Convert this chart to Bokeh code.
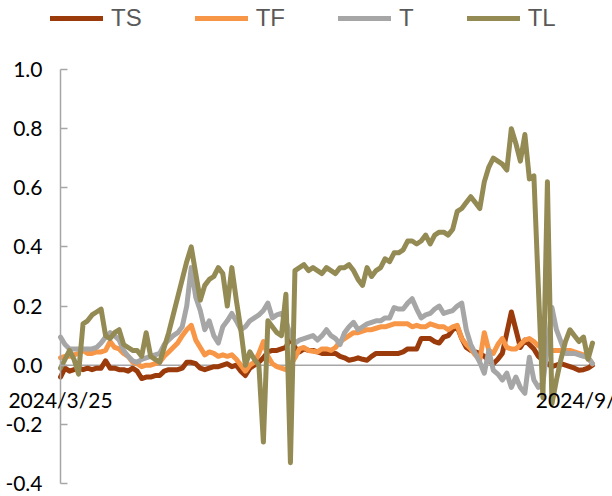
import pandas as pd
from bokeh.plotting import figure
from bokeh.models import (Range1d, Label, Legend, LegendItem, PrintfTickFormatter,
                          FixedTicker, LinearAxis)
from bokeh.embed import file_html
from bokeh.resources import INLINE

# trading calendar (exchange holidays removed)
holidays = ["2024-04-04", "2024-04-05", "2024-05-01", "2024-05-02", "2024-05-03", "2024-06-10"]
dates = [d for d in pd.bdate_range("2024-03-25", "2024-09-13") if d.strftime("%Y-%m-%d") not in holidays]
date_text = [f"{d.year}/{d.month}/{d.day}" for d in dates]
label_positions = [0, 117]

y_ticks = [-0.4, -0.2, 0.0, 0.2, 0.4, 0.6, 0.8, 1.0]

series_names = ["TS", "TF", "T", "TL"]
series_colors = ["#9b3a0a", "#f79646", "#a6a6a6", "#948a54"]

TS = [
    -0.04, -0.01, -0.02, -0.015, -0.01, -0.015, -0.01, -0.015, -0.01, -0.01,
    0.015, -0.01, -0.01, -0.015, -0.015, -0.02, -0.01, -0.02, -0.045, -0.04,
    -0.04, -0.035, -0.035, -0.02, -0.015, -0.015, -0.015, -0.01, 0.01, 0.01,
    0.005, -0.01, -0.015, -0.01, -0.005, -0.005, 0.0, 0.005, -0.005, 0.0,
    -0.02, -0.035, -0.01, 0.0, 0.01, 0.025, 0.045, 0.05, 0.05, 0.055,
    0.06, 0.095, 0.06, 0.045, 0.055, 0.05, 0.05, 0.045, 0.04, 0.04,
    0.04, 0.04, 0.03, 0.025, 0.017, 0.02, 0.025, 0.02, 0.017, 0.03,
    0.04, 0.04, 0.04, 0.04, 0.04, 0.04, 0.045, 0.055, 0.055, 0.055,
    0.09, 0.09, 0.09, 0.08, 0.075, 0.095, 0.10, 0.12, 0.13, 0.09,
    0.06, 0.05, 0.045, 0.04, 0.03, 0.015, 0.005, 0.02, 0.04, 0.11,
    0.18, 0.12, 0.06, 0.085, 0.07, 0.055, 0.03, 0.017, 0.005, -0.005,
    0.0, 0.005, 0.0, -0.005, -0.01, -0.017, -0.015, -0.01, 0.0,
]

TF = [
    0.025, 0.03, 0.03, 0.035, 0.04, 0.05, 0.04, 0.04, 0.045, 0.045,
    0.05, 0.08, 0.06, 0.055, 0.04, 0.03, 0.01, 0.005, -0.005, 0.0,
    0.0, 0.005, 0.01, 0.03, 0.045, 0.06, 0.075, 0.10, 0.12, 0.135,
    0.085, 0.06, 0.035, 0.045, 0.04, 0.03, 0.035, 0.03, 0.035, 0.02,
    0.0, -0.02, 0.0, 0.01, 0.04, 0.08, 0.03, 0.005, -0.005, -0.01,
    -0.015, 0.0, 0.025, 0.055, 0.06, 0.05, 0.047, 0.045, 0.055, 0.055,
    0.05, 0.06, 0.08, 0.09, 0.10, 0.11, 0.11, 0.115, 0.12, 0.12,
    0.125, 0.13, 0.13, 0.135, 0.14, 0.14, 0.14, 0.14, 0.13, 0.135,
    0.13, 0.13, 0.14, 0.135, 0.13, 0.13, 0.12, 0.13, 0.135, 0.09,
    0.07, 0.055, 0.035, 0.017, 0.11, 0.05, 0.04, 0.07, 0.09, 0.06,
    0.055, 0.055, 0.07, 0.085, 0.09, 0.08, 0.065, 0.06, 0.055, 0.05,
    0.05, 0.05, 0.05, 0.05, 0.045, 0.04, 0.035, 0.025, 0.005,
]

T = [
    0.095, 0.07, 0.055, 0.055, 0.055, 0.055, 0.055, 0.055, 0.06, 0.075,
    0.095, 0.11, 0.10, 0.085, 0.05, 0.03, 0.015, 0.01, 0.02, 0.025,
    0.03, 0.035, 0.04, 0.07, 0.085, 0.10, 0.11, 0.13, 0.20, 0.33,
    0.23, 0.185, 0.12, 0.15, 0.10, 0.075, 0.13, 0.15, 0.175, 0.15,
    0.12, 0.13, 0.15, 0.16, 0.17, 0.185, 0.21, 0.16, 0.17, 0.175,
    0.15, 0.10, 0.075, 0.085, 0.09, 0.095, 0.10, 0.085, 0.10, 0.12,
    0.10, 0.09, 0.07, 0.11, 0.13, 0.145, 0.12, 0.13, 0.14, 0.145,
    0.15, 0.15, 0.16, 0.16, 0.195, 0.19, 0.19, 0.21, 0.225, 0.19,
    0.16, 0.17, 0.175, 0.19, 0.20, 0.175, 0.18, 0.185, 0.20, 0.21,
    0.12, 0.07, 0.04, 0.01, -0.027, 0.05, -0.017, -0.03, -0.05, -0.027,
    -0.075, -0.04, -0.075, -0.095, 0.027, -0.05, -0.075, -0.06, 0.06, 0.195,
    0.12, 0.08, 0.04, 0.04, 0.04, 0.035, 0.03, 0.027, 0.005,
]

TL = [
    -0.01, 0.02, 0.05, 0.02, -0.03, 0.14, 0.15, 0.17, 0.18, 0.19,
    0.10, 0.09, 0.11, 0.12, 0.07, 0.06, 0.05, 0.05, 0.03, 0.11,
    0.03, 0.02, 0.01, 0.06, 0.11, 0.17, 0.23, 0.29, 0.35, 0.40,
    0.31, 0.22, 0.27, 0.29, 0.30, 0.33, 0.31, 0.20, 0.33, 0.22,
    0.12, 0.00, 0.045, 0.02, 0.00, -0.26, 0.15, 0.13, 0.11, 0.10,
    0.24, -0.33, 0.32, 0.33, 0.34, 0.32, 0.33, 0.32, 0.31, 0.33,
    0.32, 0.31, 0.33, 0.33, 0.34, 0.32, 0.29, 0.27, 0.33, 0.30,
    0.32, 0.33, 0.36, 0.35, 0.38, 0.38, 0.39, 0.42, 0.42, 0.41,
    0.42, 0.44, 0.41, 0.44, 0.45, 0.45, 0.44, 0.46, 0.52, 0.53,
    0.55, 0.57, 0.55, 0.53, 0.62, 0.67, 0.70, 0.69, 0.68, 0.66,
    0.80, 0.75, 0.69, 0.78, 0.63, 0.64, 0.26, -0.11, 0.62, -0.13,
    -0.05, 0.02, 0.08, 0.12, 0.10, 0.08, 0.095, 0.02, 0.075,
]

series_values = [TS, TF, T, TL]
x = list(range(len(dates)))

# canvas geometry: the plotting frame fills the whole canvas, and the ranges
# are padded so the data area sits at left=60, right=592, top=69, bottom=483
W, H = 612, 496
left, right, top, bottom = 60, 592, 69, 483
y_lo, y_hi = y_ticks[0], y_ticks[-1]
x_lo, x_hi = x[0], x[-1]
px_x = (right - left) / (x_hi - x_lo)
px_y = (bottom - top) / (y_hi - y_lo)

p = figure(
    width=W, height=H,
    output_backend="svg", toolbar_location=None,
    x_range=Range1d(x_lo - left / px_x, x_hi + (W - right) / px_x),
    y_range=Range1d(y_lo - (H - bottom) / px_y, y_hi + top / px_y),
    x_axis_type=None, y_axis_type=None,
    min_border=0,
)
p.outline_line_color = None
p.grid.visible = False
p.background_fill_color = "white"
p.border_fill_color = "white"

# horizontal category axis line at zero, across the category span
p.line([x_lo, x_hi], [0, 0], line_color="#a6a6a6", line_width=1.5)

# value axis anchored at the first category
ax = LinearAxis(fixed_location=x_lo, bounds=(y_lo, y_hi))
ax.ticker = FixedTicker(ticks=y_ticks)
ax.formatter = PrintfTickFormatter(format="%.1f")
ax.axis_line_color = "#a6a6a6"
ax.axis_line_width = 1.5
ax.major_tick_line_color = "#a6a6a6"
ax.major_tick_line_width = 1.5
ax.major_tick_in = 7
ax.major_tick_out = 0
ax.minor_tick_line_color = None
ax.major_label_standoff = 18
ax.major_label_text_font = "Lato"
ax.major_label_text_font_size = "21px"
ax.major_label_text_color = "#000000"
p.add_layout(ax, "left")

renderers = []
for name, vals, color in zip(series_names, series_values, series_colors):
    r = p.line(x, vals, line_color=color, line_width=5, line_join="round", line_cap="round")
    renderers.append(r)

legend = Legend(
    items=[LegendItem(label=n, renderers=[r]) for n, r in zip(series_names, renderers)],
    orientation="horizontal",
    location=(50, H - 32),
    glyph_width=53, glyph_height=24,
    label_standoff=8, label_width=10, spacing=53,
    padding=0, margin=0,
    border_line_color=None, background_fill_alpha=0,
    label_text_font="Liberation Sans", label_text_font_size="24px",
    label_text_color="#595959",
)
p.add_layout(legend)

# date labels on the category axis
for idx in label_positions:
    p.add_layout(Label(
        x=idx, y=0, text=date_text[idx],
        text_align="center", text_baseline="top", y_offset=-22,
        text_font="Lato", text_font_size="21px", text_color="#000000",
    ))

open("out.html", "w").write(file_html(p, INLINE))
